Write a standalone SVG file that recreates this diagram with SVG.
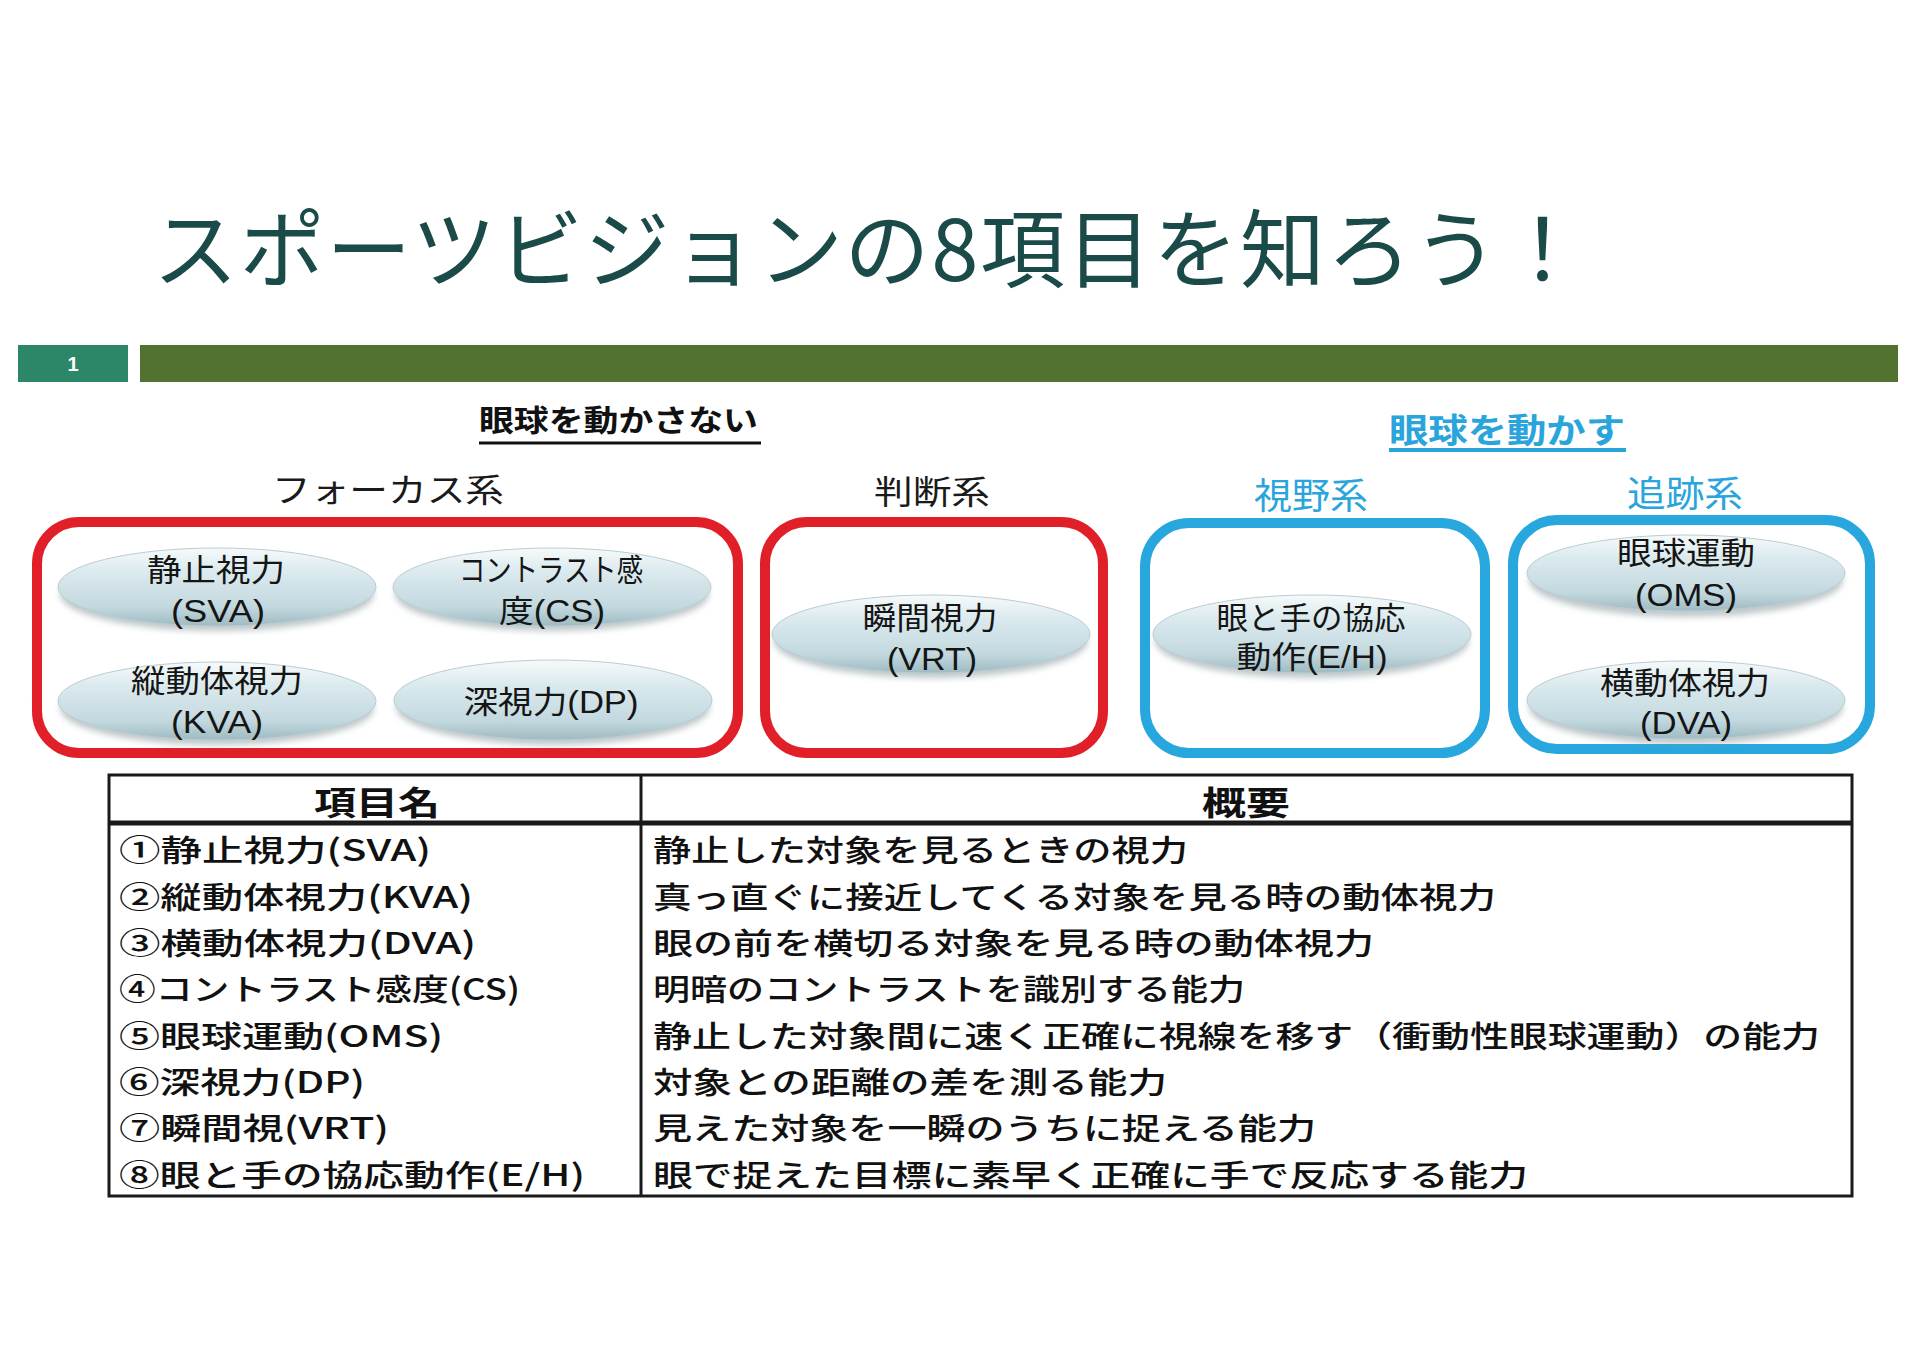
<svg xmlns="http://www.w3.org/2000/svg" width="1920" height="1358" viewBox="0 0 1920 1358">
<defs>
  <linearGradient id="ellFill" x1="0" y1="0" x2="0" y2="1">
    <stop offset="0" stop-color="#f6fafb"/>
    <stop offset="0.3" stop-color="#dbeaee"/>
    <stop offset="0.75" stop-color="#c3d9df"/>
    <stop offset="1" stop-color="#9fbac2"/>
  </linearGradient>
  <filter id="shadow" x="-10%" y="-30%" width="120%" height="170%">
    <feGaussianBlur stdDeviation="3"/>
  </filter>
  <style>
    .title{font-family:"Noto Sans CJK JP","Noto Sans",sans-serif;font-size:85px;fill:#1b4b48;}
    .sys{font-family:"Noto Sans CJK JP",sans-serif;font-size:33px;fill:#1a1a1a;}
    .sysb{font-family:"Noto Sans CJK JP",sans-serif;font-size:36px;fill:#2aa5dc;}
    .hdr{font-family:"Noto Sans CJK JP",sans-serif;font-weight:700;font-size:30px;fill:#111;}
    .hdrb{font-family:"Noto Sans CJK JP",sans-serif;font-weight:700;font-size:34px;fill:#2aa5dc;}
    .redbox{fill:none;stroke:#e01f28;stroke-width:10;}
    .bluebox{fill:none;stroke:#28a7de;stroke-width:10;}
    .ell{fill:url(#ellFill);stroke:#b9cdd3;stroke-width:1;}
    .shd{fill:#8a9a9e;opacity:0.55;filter:url(#shadow);}
    .lbl{font-family:"Liberation Sans","Noto Sans CJK JP",sans-serif;font-size:31px;fill:#151515;text-anchor:middle;}
    .th{font-family:"Noto Sans CJK JP",sans-serif;font-weight:700;font-size:33px;fill:#111;text-anchor:middle;}
    .td{font-family:"Noto Sans CJK JP",sans-serif;font-weight:500;font-size:30px;fill:#111;}
    .tl{fill:none;stroke:#1a1a1a;stroke-width:3;}
  </style>
</defs>
<rect width="1920" height="1358" fill="#ffffff"/>

<g id="title">
  <text class="title" x="153" y="281" textLength="1432" lengthAdjust="spacing">スポーツビジョンの8項目を知ろう！</text>
</g>

<g id="header-bar">
  <rect x="18" y="345" width="110" height="37" fill="#2b8767"/>
  <text x="73" y="371" font-family="Liberation Sans, sans-serif" font-size="20" font-weight="700" fill="#ffffff" text-anchor="middle">1</text>
  <rect x="140" y="345" width="1758" height="37" fill="#52732f"/>
</g>

<g id="group-no-move">
  <text class="hdr" x="479" y="431" textLength="279" lengthAdjust="spacingAndGlyphs">眼球を動かさない</text>
  <line x1="479" y1="443" x2="761" y2="443" stroke="#111" stroke-width="3"/>
</g>
<g id="group-move">
  <text class="hdrb" x="1389" y="443" textLength="236" lengthAdjust="spacingAndGlyphs">眼球を動かす</text>
  <line x1="1389" y1="450" x2="1626" y2="450" stroke="#2aa5dc" stroke-width="4"/>
</g>

<g id="focus-system">
  <text class="sys" x="272" y="502" textLength="232" lengthAdjust="spacingAndGlyphs">フォーカス系</text>
  <rect class="redbox" x="37" y="522" width="701" height="231" rx="42"/>
</g>
<g id="judge-system">
  <text class="sys" x="874" y="504" textLength="116" lengthAdjust="spacingAndGlyphs">判断系</text>
  <rect class="redbox" x="765" y="522" width="338" height="231" rx="42"/>
</g>
<g id="field-system">
  <text class="sysb" x="1254" y="509" textLength="114" lengthAdjust="spacingAndGlyphs">視野系</text>
  <rect class="bluebox" x="1145" y="523" width="340" height="230" rx="44"/>
</g>
<g id="track-system">
  <text class="sysb" x="1627" y="507" textLength="116" lengthAdjust="spacingAndGlyphs">追跡系</text>
  <rect class="bluebox" x="1513" y="520" width="357" height="229" rx="44"/>
</g>

<g id="node-sva">
  <ellipse class="shd" cx="217" cy="594" rx="157" ry="37"/>
  <ellipse class="ell" cx="217" cy="587" rx="159" ry="39"/>
  <text class="lbl" x="216" y="581" textLength="138" lengthAdjust="spacingAndGlyphs">静止視力</text>
  <text class="lbl" x="218" y="622" textLength="94" lengthAdjust="spacingAndGlyphs">(SVA)</text>
</g>
<g id="node-cs">
  <ellipse class="shd" cx="552" cy="594" rx="157" ry="37"/>
  <ellipse class="ell" cx="552" cy="587" rx="159" ry="39"/>
  <text class="lbl" x="551" y="581" textLength="184" lengthAdjust="spacingAndGlyphs">コントラスト感</text>
  <text class="lbl" x="552" y="622" textLength="106" lengthAdjust="spacingAndGlyphs">度(CS)</text>
</g>
<g id="node-kva">
  <ellipse class="shd" cx="217" cy="708" rx="157" ry="37"/>
  <ellipse class="ell" cx="217" cy="701" rx="159" ry="39"/>
  <text class="lbl" x="217" y="692" textLength="172" lengthAdjust="spacingAndGlyphs">縦動体視力</text>
  <text class="lbl" x="217" y="733" textLength="92" lengthAdjust="spacingAndGlyphs">(KVA)</text>
</g>
<g id="node-dp">
  <ellipse class="shd" cx="553" cy="707" rx="157" ry="38"/>
  <ellipse class="ell" cx="553" cy="700" rx="159" ry="40"/>
  <text class="lbl" x="551" y="713" textLength="175" lengthAdjust="spacingAndGlyphs">深視力(DP)</text>
</g>
<g id="node-vrt">
  <ellipse class="shd" cx="931" cy="641" rx="157" ry="37"/>
  <ellipse class="ell" cx="931" cy="634" rx="159" ry="39"/>
  <text class="lbl" x="930" y="629" textLength="135" lengthAdjust="spacingAndGlyphs">瞬間視力</text>
  <text class="lbl" x="932" y="670" textLength="90" lengthAdjust="spacingAndGlyphs">(VRT)</text>
</g>
<g id="node-eh">
  <ellipse class="shd" cx="1312" cy="641" rx="157" ry="37"/>
  <ellipse class="ell" cx="1312" cy="634" rx="159" ry="39"/>
  <text class="lbl" x="1311" y="629" textLength="189" lengthAdjust="spacingAndGlyphs">眼と手の協応</text>
  <text class="lbl" x="1312" y="668" textLength="151" lengthAdjust="spacingAndGlyphs">動作(E/H)</text>
</g>
<g id="node-oms">
  <ellipse class="shd" cx="1686" cy="580" rx="157" ry="37"/>
  <ellipse class="ell" cx="1686" cy="573" rx="159" ry="38"/>
  <text class="lbl" x="1686" y="564" textLength="138" lengthAdjust="spacingAndGlyphs">眼球運動</text>
  <text class="lbl" x="1686" y="606" textLength="102" lengthAdjust="spacingAndGlyphs">(OMS)</text>
</g>
<g id="node-dva">
  <ellipse class="shd" cx="1686" cy="707" rx="157" ry="37"/>
  <ellipse class="ell" cx="1686" cy="700" rx="159" ry="39"/>
  <text class="lbl" x="1685" y="694" textLength="170" lengthAdjust="spacingAndGlyphs">横動体視力</text>
  <text class="lbl" x="1686" y="734" textLength="92" lengthAdjust="spacingAndGlyphs">(DVA)</text>
</g>

<g id="connectors"></g>

<g id="table">
  <rect class="tl" x="109" y="775" width="1743" height="421"/>
  <line x1="109" y1="823" x2="1852" y2="823" stroke="#1a1a1a" stroke-width="5"/>
  <line class="tl" x1="641" y1="775" x2="641" y2="1196"/>
  <text class="th" x="377" y="815" textLength="126" lengthAdjust="spacingAndGlyphs">項目名</text>
  <text class="th" x="1246" y="815" textLength="88" lengthAdjust="spacingAndGlyphs">概要</text>

  <text class="td" x="119" y="861" textLength="312" lengthAdjust="spacingAndGlyphs">①静止視力(SVA)</text>
  <text class="td" x="119" y="908" textLength="354" lengthAdjust="spacingAndGlyphs">②縦動体視力(KVA)</text>
  <text class="td" x="119" y="954" textLength="357" lengthAdjust="spacingAndGlyphs">③横動体視力(DVA)</text>
  <text class="td" x="119" y="1000" textLength="401" lengthAdjust="spacingAndGlyphs">④コントラスト感度(CS)</text>
  <text class="td" x="119" y="1047" textLength="324" lengthAdjust="spacingAndGlyphs">⑤眼球運動(OMS)</text>
  <text class="td" x="119" y="1093" textLength="246" lengthAdjust="spacingAndGlyphs">⑥深視力(DP)</text>
  <text class="td" x="119" y="1139" textLength="270" lengthAdjust="spacingAndGlyphs">⑦瞬間視(VRT)</text>
  <text class="td" x="119" y="1186" textLength="466" lengthAdjust="spacingAndGlyphs">⑧眼と手の協応動作(E/H)</text>

  <text class="td" x="653" y="861" textLength="535" lengthAdjust="spacingAndGlyphs">静止した対象を見るときの視力</text>
  <text class="td" x="653" y="908" textLength="843" lengthAdjust="spacingAndGlyphs">真っ直ぐに接近してくる対象を見る時の動体視力</text>
  <text class="td" x="653" y="954" textLength="721" lengthAdjust="spacingAndGlyphs">眼の前を横切る対象を見る時の動体視力</text>
  <text class="td" x="653" y="1000" textLength="592" lengthAdjust="spacingAndGlyphs">明暗のコントラストを識別する能力</text>
  <text class="td" x="653" y="1047" textLength="1167" lengthAdjust="spacingAndGlyphs">静止した対象間に速く正確に視線を移す（衝動性眼球運動）の能力</text>
  <text class="td" x="653" y="1093" textLength="514" lengthAdjust="spacingAndGlyphs">対象との距離の差を測る能力</text>
  <text class="td" x="653" y="1139" textLength="663" lengthAdjust="spacingAndGlyphs">見えた対象を一瞬のうちに捉える能力</text>
  <text class="td" x="653" y="1186" textLength="875" lengthAdjust="spacingAndGlyphs">眼で捉えた目標に素早く正確に手で反応する能力</text>
</g>
</svg>
